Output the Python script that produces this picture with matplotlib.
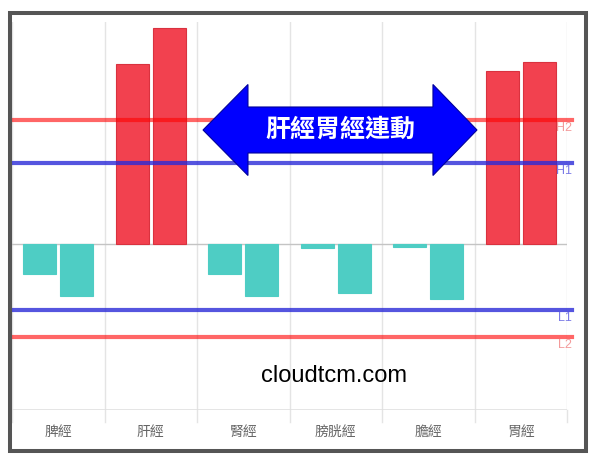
import matplotlib
matplotlib.use("Agg")
import matplotlib.pyplot as plt
import matplotlib.patches as patches
import numpy as np

plt.rcParams['font.family'] = ['Noto Sans CJK TC', 'DejaVu Sans']

meridians = ["脾經", "肝經", "腎經", "膀胱經", "膽經", "胃經"]
left_vals = [-3.0, 18.0, -3.0, -0.4, -0.3, 17.3]
right_vals = [-5.2, 21.6, -5.2, -4.9, -5.5, 18.2]

levels = [12.4, 8.1, -6.6, -9.3]
level_names = ["H2", "H1", "L1", "L2"]
level_colors = ["#ff0000", "#2a2ad8", "#2a2ad8", "#ff0000"]
level_alpha = [0.6, 0.8, 0.8, 0.6]
label_colors = ["#f39a9a", "#7a7ae6", "#7a7ae6", "#f39a9a"]

red = "#f2414f"
teal = "#4ecdc4"

fig = plt.figure(figsize=(6.0, 4.66), dpi=100)
ax = fig.add_axes([0.02, 0.1202, 0.925, 0.8326])

x = np.arange(len(meridians))
w = 0.36
for off, vals in [(-0.2, left_vals), (0.2, right_vals)]:
	cols = [red if v > 0 else teal for v in vals]
	edges = ["#d9323f" if v > 0 else teal for v in vals]
	ax.bar(x + off, vals, width=w, color=cols, edgecolor=edges, linewidth=0.8, zorder=2)

ax.set_xlim(-0.5, len(meridians) - 0.5)
ax.set_ylim(-16.6, 22.2)

# vertical grid at category edges
for b in np.arange(-0.5, len(meridians), 1.0):
	ax.plot([b, b], [-16.6, 22.2], color="#e4e4e4", lw=1, zorder=0)
	ax.plot([b, b], [-16.6, -17.8], color="#e4e4e4", lw=1, clip_on=False)
ax.axhline(0, color="#c4c4c4", lw=1, zorder=1)
ax.axhline(-16.6, color="#e0e0e0", lw=1.2, zorder=1)

for lv, nm, c, a, lc in zip(levels, level_names, level_colors, level_alpha, label_colors):
	ax.axhline(lv, xmin=0, xmax=1.009, color=c, lw=3, alpha=a, zorder=3, clip_on=False)
	ax.text(5.556, lv - 0.2, nm, color=lc, fontsize=9, ha="right", va="top",
		family=["Liberation Sans"], zorder=4, clip_on=False)

for s in ax.spines.values():
	s.set_visible(False)
ax.set_yticks([])
ax.set_xticks(x)
ax.set_xticklabels(meridians, fontsize=10, color="#666666")
ax.tick_params(axis="x", length=0, pad=15.5)
for t in ax.get_xticklabels():
	t.set_va("center")

# double arrow
tip_l, base_l, base_r, tip_r = 1.565, 2.051, 4.051, 4.527
yc, shaft, head = 11.4, 2.3, 4.55
arrow = [
	(tip_l, yc), (base_l, yc + head), (base_l, yc + shaft), (base_r, yc + shaft),
	(base_r, yc + head), (tip_r, yc), (base_r, yc - head), (base_r, yc - shaft),
	(base_l, yc - shaft), (base_l, yc - head)
]
ax.add_patch(patches.Polygon(arrow, closed=True, facecolor="#0000ff",
	edgecolor="#00009a", lw=0.8, zorder=5))
ax.text(3.046, yc, "肝經胃經連動", color="white", fontsize=18, fontweight="bold",
	ha="center", va="center", zorder=6)

ax.text(2.98, -13.2, "cloudtcm.com", color="black", fontsize=17,
	family=["Liberation Sans"], ha="center", va="center", zorder=6)

frame = patches.Rectangle((0.01667, 0.0322), 0.96, 0.9399, transform=fig.transFigure,
	fill=False, edgecolor="#555555", lw=2.9)
fig.patches.append(frame)

fig.savefig("out.png", dpi=100)
